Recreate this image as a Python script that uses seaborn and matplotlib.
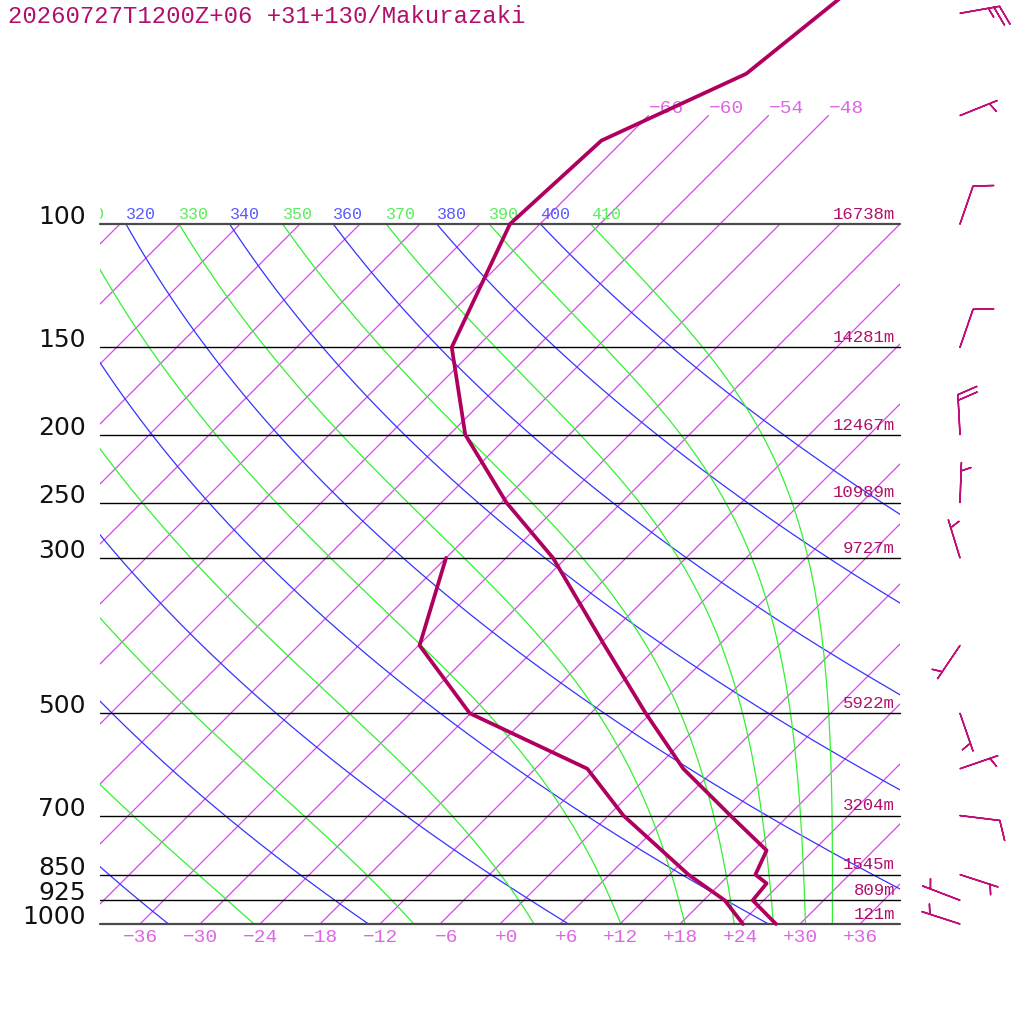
import numpy as np
import pandas as pd
import matplotlib
matplotlib.use("Agg")
import matplotlib.pyplot as plt
import seaborn as sns
from matplotlib.patches import Rectangle
from matplotlib.transforms import Bbox, TransformedBbox

# ---------------- data ----------------
title = "20260727T1200Z+06 +31+130/Makurazaki"

temp_p = [1000, 925, 875, 850, 785, 700, 600, 500, 400, 300, 250, 200, 150, 100, 76, 61, 40]
temp_t = [27.6, 22.9, 22.6, 20.6, 19.3, 12.2, 2.8, -6.5, -17.4, -31.3, -41.5, -52.4, -62.5,
          -69.0, -68.2, -60.4, -57.3]

dew_p = [1000, 925, 850, 700, 600, 500, 400, 300]
dew_t = [24.3, 20.1, 13.9, 1.5, -6.8, -24.1, -35.9, -42.0]

level_p = [100, 150, 200, 250, 300, 500, 700, 850, 925, 1000]
level_lbl = ["100", "150", "200", "250", "300", "500", "700", "850", "925", "1000"]
level_z = ["16738m", "14281m", "12467m", "10989m", "9727m", "5922m", "3204m",
           "1545m", "809m", "121m"]

wind_p = [50, 70, 100, 150, 200, 250, 300, 400, 500, 600, 700, 850, 925, 1000]
wind_dir = [80, 68, 19, 19, 357, 2, 343, 214, 161, 71, 97, 108, 291, 288]
wind_kt = [25, 5, 10, 10, 20, 5, 5, 5, 5, 5, 10, 5, 5, 5]

isotherm_t = list(range(-108, 37, 6))
isotherm_top_t = [-66, -60, -54, -48]
bottom_ticks = list(range(-36, 37, 6))
theta_dry = list(range(240, 401, 20))
theta_moist = list(range(250, 411, 20))
label_thetas = list(range(310, 411, 10))

# ---------------- styling ----------------
PROF = "#b0005f"
MAG_LINE = "#e040f4"
MAG_TXT = "#dd66e6"
BLUE = "#3434ff"
GREEN = "#34f034"
DARKMAG = "#b0106b"
SKEW = 70.0
PTOP, PBOT = 100.0, 1000.0


def skew_x(t, p):
    return np.asarray(t, float) + SKEW * np.log10(1000.0 / np.asarray(p, float))


def theta_e(tc, p):
    tk = tc + 273.15
    es = 6.112 * np.exp(17.67 * tc / (tc + 243.5))
    r = 0.622 * es / (p - es)
    return tk * (1000.0 / p) ** (0.2854 * (1 - 0.28 * r)) * \
        np.exp((3.376 / tk - 0.00254) * r * 1000.0 * (1 + 0.81 * r))


def moist_t(target, p):
    lo = np.full_like(p, -150.0)
    hi = np.full_like(p, 40.0)
    with np.errstate(all="ignore"):
        for _ in range(60):
            mid = 0.5 * (lo + hi)
            val = theta_e(mid, p)
            up = (val > target) | ~np.isfinite(val)
            hi = np.where(up, mid, hi)
            lo = np.where(up, lo, mid)
    return 0.5 * (lo + hi)


sns.set_theme(style="white")
plt.rcParams["font.family"] = ["DejaVu Sans"]
MONO = ["Liberation Mono", "DejaVu Sans Mono"]

fig = plt.figure(figsize=(10.24, 10.24), dpi=100)
ax = fig.add_axes([0, 0, 1, 1])
ax.set_yscale("log")
ax.set_xlim(-50, 52.4)
ax.set_ylim(1000 * 10 ** (100 / 700), 1000 * 10 ** (-924 / 700))
ax.axis("off")

box = Rectangle((-40, PTOP), 80, PBOT - PTOP, transform=ax.transData,
                facecolor="none", edgecolor="none")
ax.add_patch(box)
text_bbox = TransformedBbox(Bbox([[-40, 10], [200, 5000]]), ax.transData)

# isotherms
pp2 = np.array([PBOT, PTOP])
for t in isotherm_t:
    ln, = ax.plot(skew_x([t, t], pp2), pp2, color=MAG_LINE, lw=0.9, zorder=1)
    ln.set_clip_path(box)
for t in isotherm_top_t:
    pe = np.array([PTOP, 70.0])
    ax.plot(skew_x([t, t], pe), pe, color=MAG_LINE, lw=0.9, zorder=1)
    ax.text(skew_x(t, 70.0), 70.0 * 0.99, "\u2212%d" % abs(t), color=MAG_TXT,
            fontsize=14, family=MONO, ha="left", va="baseline")

# adiabats
pgrid = np.geomspace(PBOT, PTOP, 240)
for th in theta_dry:
    t = th * (pgrid / 1000.0) ** 0.2857 - 273.15
    ln, = ax.plot(skew_x(t, pgrid), pgrid, color=BLUE, lw=0.9, zorder=2)
    ln.set_clip_path(box)
for th in theta_moist:
    t = moist_t(float(th), pgrid)
    ln, = ax.plot(skew_x(t, pgrid), pgrid, color=GREEN, lw=0.9, zorder=2)
    ln.set_clip_path(box)

# theta labels at 100 hPa
for th in label_thetas:
    if th % 20 == 0:
        t = th * (PTOP / 1000.0) ** 0.2857 - 273.15
        col = "#5a5aff"
    else:
        t = moist_t(float(th), np.array([PTOP]))[0]
        col = "#5aec5a"
    tx = ax.text(skew_x(t, PTOP), PTOP * 0.993, str(th), color=col, fontsize=12,
                 family=MONO, ha="left", va="bottom", clip_on=True)
    tx.set_clip_box(text_bbox)

# pressure lines & labels
for p, lbl, z in zip(level_p, level_lbl, level_z):
    edge = p in (100, 1000)
    ax.plot([-40, 40], [p, p], color="#4a4a4a" if edge else "black",
            lw=1.6 if edge else 1.0, zorder=3)
    ax.text(-41.4, p, lbl, color="#111111", fontsize=18, ha="right", va="baseline")
    ax.text(39.5, p * 0.993, z, color=DARKMAG, fontsize=12.5, family=MONO,
            ha="right", va="bottom")

# bottom temperature labels
ylab = 1000 * 10 ** (13 / 700)
for t in bottom_ticks:
    s = ("+%d" % t) if t >= 0 else "\u2212%d" % abs(t)
    ax.text(t + 1.8, ylab, s, color=MAG_TXT, fontsize=14, family=MONO,
            ha="right", va="center")

# profiles
tdf = pd.DataFrame({"x": skew_x(temp_t, temp_p), "p": temp_p})
ddf = pd.DataFrame({"x": skew_x(dew_t, dew_p), "p": dew_p})
sns.lineplot(data=tdf, x="x", y="p", sort=False, estimator=None, color=PROF,
             lw=2.7, ax=ax, zorder=5)
sns.lineplot(data=ddf, x="x", y="p", sort=False, estimator=None, color=PROF,
             lw=2.7, ax=ax, zorder=5)
ax.set_yscale("log")
ax.set_xlim(-50, 52.4)
ax.set_ylim(1000 * 10 ** (100 / 700), 1000 * 10 ** (-924 / 700))
ax.axis("off")

# wind barbs
d = np.deg2rad(np.array(wind_dir, float))
spd = np.array(wind_kt, float)
u = -spd * np.sin(d)
v = -spd * np.cos(d)
ax.barbs(np.full(len(wind_p), 46.0), np.array(wind_p, float), u, v,
         length=7.6, color="#c01078", linewidth=1.1, zorder=6,
         sizes=dict(height=0.48, width=0.36, spacing=0.14, emptybarb=0.1))

fig.text(8 / 1024, 1 - 5 / 1024, title, color=DARKMAG, fontsize=17.2, family=MONO,
         ha="left", va="top")

fig.savefig("out.png", dpi=100, facecolor="white")
